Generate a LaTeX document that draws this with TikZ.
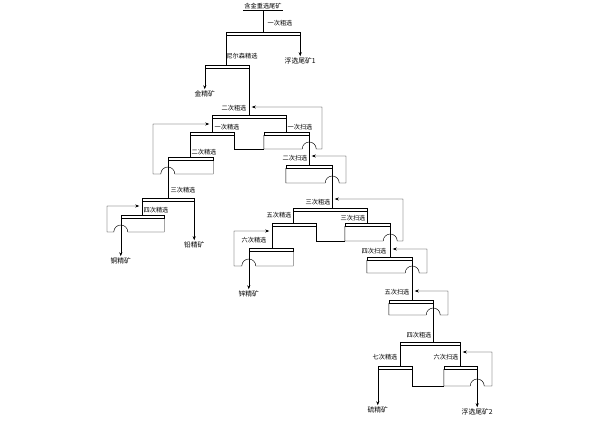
\documentclass[tikz,border=0pt]{standalone}
\usepackage{fontspec}
\newfontfamily\cjk{Noto Sans CJK SC}
\usetikzlibrary{arrows.meta,calc,positioning}
\tikzset{
  bar/.style={draw,rectangle,inner sep=0pt,minimum height=3pt},
  lbl/.style={font=\cjk\fontsize{6.2}{7}\selectfont,inner sep=0pt},
  prod/.style={font=\cjk\fontsize{6.8}{7.5}\selectfont,inner sep=1.5pt}
}

\begin{document}
\begin{tikzpicture}[x=1pt,y=-1pt,line width=0.45pt,>={Stealth[length=4pt,width=3pt]}]
  \useasboundingbox (0,0) rectangle (600,423);
  % feed and first roughing
  \node[lbl,inner sep=1pt] (feed) at (263,6) {含金重选尾矿};
  \draw (feed.south west) -- (feed.south east);
  \node[bar,minimum width=74pt] (r1) at (263,33.5) {};
  \draw (feed.south) -- (r1.north);
  \node[lbl] (lr1) at (280,23) {一次粗选};
  \node[prod,below=21pt of r1.south east] (fw1) {浮选尾矿1};
  \draw[->] (r1.south east) -- (fw1.north);

  % Knelson
  \node[bar,minimum width=44pt] (kn) at (227,66.5) {};
  \draw (r1.south west) -- (r1.south west |- kn.north);
  \node[lbl] (lkn) at (242,56) {尼尔森精选};
  \node[prod,below=21pt of kn.south west] (jin) {金精矿};
  \draw[->] (kn.south west) -- (jin.north);

  % second roughing
  \node[bar,minimum width=74pt] (r2) at (249,116.5) {};
  \draw (kn.south east) -- (kn.south east |- r2.north);
  \node[lbl] (lr2) at (234,108) {二次粗选};

  \node[bar,minimum width=44pt] (c1) at (212,133.5) {};
  \node[bar,minimum width=45pt] (s1) at (286.5,133.5) {};
  \draw (r2.south west) -- (r2.south west |- c1.north);
  \draw (r2.south east) -- (r2.south east |- s1.north);
  \node[lbl] (lc1) at (227,127) {一次精选};
  \node[lbl] (ls1) at (300,127) {一次扫选};
  \coordinate (s1bot) at (322,149);
  \coordinate (s1ret) at (322,107);
  \draw (c1.south east) |- (s1.south west |- s1bot);
  \draw[->] (s1.south west) -- (s1.south west |- s1bot)
    -- ($(s1.south east |- s1bot)+(-7,0)$) arc[start angle=180,end angle=0,radius=7pt]
    -- (s1bot) -- (s1ret) -- ($(kn.south east |- s1ret)+(2.5,0)$);

  % cleaners 2-4
  \node[bar,minimum width=45pt] (c2) at (190.5,158.5) {};
  \draw (c1.south west) -- (c1.south west |- c2.north);
  \node[lbl] (lc2) at (204,152) {二次精选};
  \coordinate (c2bot) at (153,174);
  \coordinate (c2ret) at (153,124);
  \draw[->] (c2.south east) -- (c2.south east |- c2bot)
    -- ($(c2.south west |- c2bot)+(7,0)$) arc[start angle=0,end angle=180,radius=7pt]
    -- (c2bot) -- (c2ret) -- ($(r2.south west |- c2ret)+(-2.5,0)$);

  \node[bar,minimum width=52pt] (c3) at (168,199.5) {};
  \draw (c2.south west) -- (c2.south west |- c3.north);
  \node[lbl] (lc3) at (183,190) {三次精选};
  \node[prod,below=39pt of c3.south east] (qian) {铅精矿};
  \draw[->] (c3.south east) -- (qian.north);

  \node[bar,minimum width=43pt] (c4) at (142.5,216.5) {};
  \draw (c3.south west) -- (c3.south west |- c4.north);
  \node[lbl] (lc4) at (156,210) {四次精选};
  \coordinate (c4bot) at (107,232);
  \coordinate (c4ret) at (107,206);
  \draw[->] (c4.south east) -- (c4.south east |- c4bot)
    -- ($(c4.south west |- c4bot)+(7,0)$) arc[start angle=0,end angle=180,radius=7pt]
    -- (c4bot) -- (c4ret) -- ($(c3.south west |- c4ret)+(-2.5,0)$);
  \node[prod,below=38pt of c4.south west] (tong) {铜精矿};
  \draw[->] (c4.south west) -- (tong.north);

  % scavenger 2 and third roughing
  \node[bar,minimum width=46pt] (s2) at (309,166.5) {};
  \draw (s1.south east) -- (s1.south east |- s2.north);
  \node[lbl] (ls2) at (295,158) {二次扫选};
  \coordinate (s2bot) at (346,183);
  \coordinate (s2ret) at (346,156);
  \draw[->] (s2.south west) -- (s2.south west |- s2bot)
    -- ($(s2.south east |- s2bot)+(-7,0)$) arc[start angle=180,end angle=0,radius=7pt]
    -- (s2bot) -- (s2ret) -- ($(s1.south east |- s2ret)+(2.5,0)$);

  \node[bar,minimum width=74pt] (r3) at (330,209.5) {};
  \draw (s2.south east) -- (s2.south east |- r3.north);
  \node[lbl] (lr3) at (318,202) {三次粗选};

  \node[bar,minimum width=44pt] (c5) at (294,224.5) {};
  \node[bar,minimum width=45pt] (s3) at (367.5,224.5) {};
  \draw (r3.south west) -- (r3.south west |- c5.north);
  \draw (r3.south east) -- (r3.south east |- s3.north);
  \node[lbl] (lc5) at (279,215) {五次精选};
  \node[lbl] (ls3) at (353,218) {三次扫选};
  \coordinate (s3bot) at (403,241);
  \coordinate (s3ret) at (403,199);
  \draw (c5.south east) |- (s3.south west |- s3bot);
  \draw[->] (s3.south west) -- (s3.south west |- s3bot)
    -- ($(s3.south east |- s3bot)+(-7,0)$) arc[start angle=180,end angle=0,radius=7pt]
    -- (s3bot) -- (s3ret) -- ($(s2.south east |- s3ret)+(2.5,0)$);

  \node[bar,minimum width=44pt] (c6) at (271,249.5) {};
  \draw (c5.south west) -- (c5.south west |- c6.north);
  \node[lbl] (lc6) at (254,240) {六次精选};
  \coordinate (c6bot) at (234,266);
  \coordinate (c6ret) at (234,231);
  \draw[->] (c6.south east) -- (c6.south east |- c6bot)
    -- ($(c6.south west |- c6bot)+(7,0)$) arc[start angle=0,end angle=180,radius=7pt]
    -- (c6bot) -- (c6ret) -- ($(c5.south west |- c6ret)+(-2.5,0)$);
  \node[prod,below=38pt of c6.south west] (xin) {锌精矿};
  \draw[->] (c6.south west) -- (xin.north);

  % scavengers 4-5
  \node[bar,minimum width=45pt] (s4) at (389.5,258.5) {};
  \draw (s3.south east) -- (s3.south east |- s4.north);
  \node[lbl] (ls4) at (374,251) {四次扫选};
  \coordinate (s4bot) at (427,273);
  \coordinate (s4ret) at (427,249);
  \draw[->] (s4.south west) -- (s4.south west |- s4bot)
    -- ($(s4.south east |- s4bot)+(-7,0)$) arc[start angle=180,end angle=0,radius=7pt]
    -- (s4bot) -- (s4ret) -- ($(s3.south east |- s4ret)+(2.5,0)$);

  \node[bar,minimum width=44pt] (s5) at (411,301.5) {};
  \draw (s4.south east) -- (s4.south east |- s5.north);
  \node[lbl] (ls5) at (397,292) {五次扫选};
  \coordinate (s5bot) at (448,315);
  \coordinate (s5ret) at (448,291);
  \draw[->] (s5.south west) -- (s5.south west |- s5bot)
    -- ($(s5.south east |- s5bot)+(-7,0)$) arc[start angle=180,end angle=0,radius=7pt]
    -- (s5bot) -- (s5ret) -- ($(s4.south east |- s5ret)+(2.5,0)$);

  % fourth roughing
  \node[bar,minimum width=60pt] (r4) at (430,343.5) {};
  \draw (s5.south east) -- (s5.south east |- r4.north);
  \node[lbl] (lr4) at (419,335) {四次粗选};

  \node[bar,minimum width=34pt] (c7) at (395,367.5) {};
  \node[bar,minimum width=33pt] (s6) at (460.5,367.5) {};
  \draw (r4.south west) -- (r4.south west |- c7.north);
  \draw (r4.south east) -- (r4.south east |- s6.north);
  \node[lbl] (lc7) at (385,357) {七次精选};
  \node[lbl] (ls6) at (446,357) {六次扫选};
  \coordinate (s6bot) at (492,386);
  \coordinate (s6ret) at (492,352);
  \draw (c7.south east) |- (s6.south west |- s6bot);
  \draw[->] (s6.south west) -- (s6.south west |- s6bot)
    -- ($(s6.south east |- s6bot)+(-7,0)$) arc[start angle=180,end angle=0,radius=7pt]
    -- (s6bot) -- (s6ret) -- ($(r4.south east |- s6ret)+(2.5,0)$);
  \node[prod,below=36pt of c7.south west] (liu) {硫精矿};
  \draw[->] (c7.south west) -- (liu.north);
  \node[prod,below=38pt of s6.south east] (fw2) {浮选尾矿2};
  \draw[->] (s6.south east) -- (fw2.north);
\end{tikzpicture}
\end{document}
